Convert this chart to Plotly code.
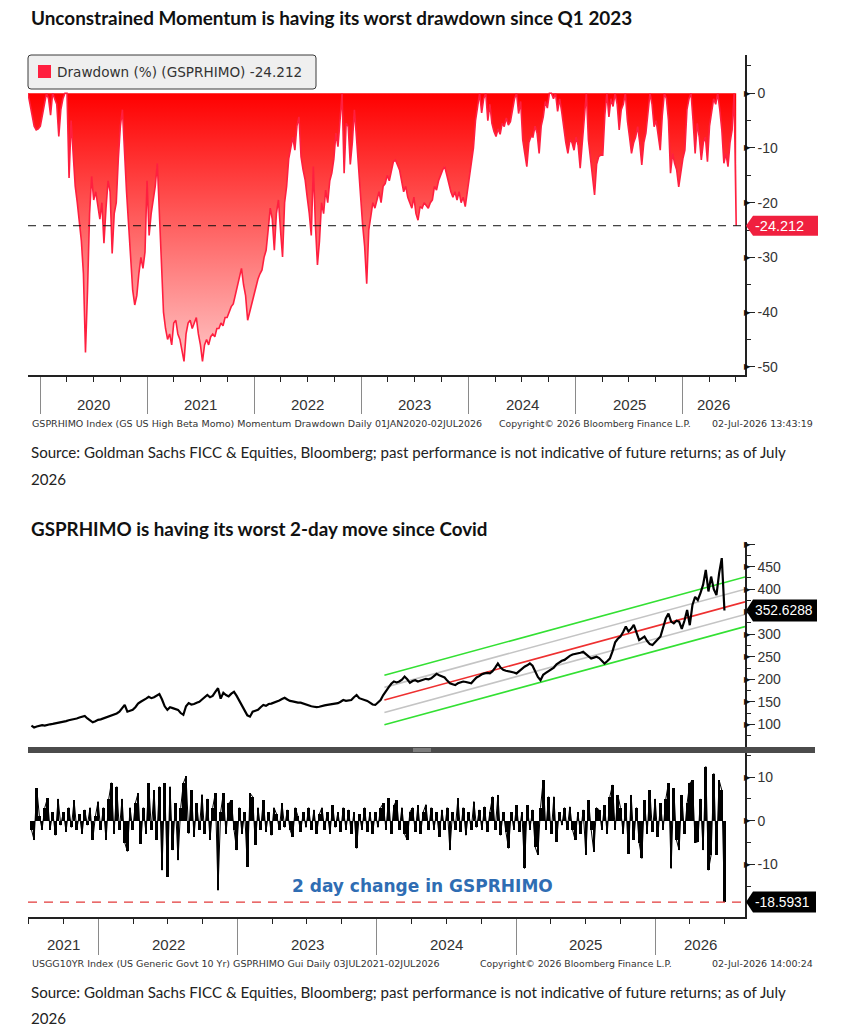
import pandas as pd
import plotly.graph_objects as go

# ---------------- data ----------------
dd_dates = pd.date_range(end="2026-07-02", periods=346, freq="7D")
drawdown = [
    0, -2, -4.5, -6, -6.7, -6.5, -6, -4, -2, 0,
    -1, -4, 0, -1, -2, -7.9, -3, -1, 0, 0,
    -15.5, -5, -11, -17, -20, -24, -27, -33, -47.4, -36,
    -22, -15.2, -19.5, -18, -21, -23, -20, -27.4, -21, -16,
    -18, -29.3, -22, -20, -12, -6, -3, -12, -18, -24,
    -31, -36, -38.7, -37, -33, -30, -32, -29, -16, -26,
    -22, -19, -17, -12.8, -22, -32, -40, -43, -45, -44,
    -46, -42, -41.5, -44, -45, -47, -49, -44, -42, -41.5,
    -43, -42, -41, -44, -46, -49, -46, -45, -46, -44.5,
    -44, -44.5, -43, -43, -42, -42.5, -41, -41, -40, -39,
    -38.5, -37, -35.4, -34, -32, -35, -37, -41.5, -40, -38.4,
    -37, -35.4, -34, -33, -32.3, -30, -28.7, -25, -21, -23,
    -28.7, -22, -19.5, -25, -29.9, -20, -17, -12, -9.75, -8,
    -10.4, -6, -4.3, -11.6, -14, -15.8, -19, -21.9, -26, -13.4,
    -24, -31.4, -27, -20, -22, -17.7, -20, -16, -14.6, -12,
    -7.3, -9.75, -5, 0, -14.6, -5.5, -6.1, -13, -9, -3,
    -8, -13.4, -20, -24, -28, -34.8, -25, -22, -20, -21,
    -19.5, -18, -20, -17, -16.5, -15, -16, -14, -12.5, -12.2,
    -13, -14, -16, -18, -17, -19, -20, -21, -19, -22,
    -23.2, -20.7, -21, -20, -20.5, -21, -20, -19.5, -17, -17.7,
    -16, -15, -14, -13.4, -15, -17, -18, -19, -18, -19.5,
    -18, -20, -19, -20.7, -18, -16, -13.4, -10, -5, -2,
    0, -3.6, -1, 0, -5, -2, -5.5, -7, -7.9, -6.5,
    -7.5, -5.5, -6.1, -4.5, -5.8, -5.2, -3, -1, 0, -3.7,
    -1.5, -8.5, -11, -13.4, -9, -7.9, -8, -6, -7.3, -11,
    -6, -4.3, -1.5, -2.7, 0, 0, -1, 0, -3.3, -1,
    -3.4, -6.7, -9, -11, -8.5, -9, -10.4, -8, -9.5, -13.7,
    -9, -4, 0, -8.5, -11.6, -15, -18.6, -13, -11.6, -11.3,
    -11.3, -4, 0, -4.3, -1, -2.4, 0, -2, -6.7, -3,
    -2, 0, -5, -7.9, -11, -9.1, -8, -6.1, -9, -13.1,
    -9, -7.3, -3, 0, -2, -6.1, -5, -8, -10.4, -4,
    0, -1, -4.9, -14.6, -11, -12.8, -14, -17.1, -14, -12,
    -10.4, -3, -1, 0, -5, -11, -5.5, -8, -12.2, -9,
    -8, -12.5, -6, -3, -1, -2, 0, -3, -6.7, -12.8,
    -11, -13.4, -9, -6.7, 0, -24.212,
]

wk_dates = pd.date_range(end="2026-07-02", periods=261, freq="7D")
price = [
    97, 93, 95, 96, 98, 97, 99, 100, 101, 102,
    103, 104, 106, 107, 109, 110, 111, 113, 115, 117,
    118.5, 113, 108, 104.4, 107, 110, 111, 113, 115, 117,
    119, 121, 124, 128, 135, 143, 128, 130, 132, 138,
    146, 150, 153, 157, 161, 158, 160, 163, 167, 155,
    140, 132, 138, 136, 134, 132, 125, 121, 140, 147,
    144, 145, 148, 150, 155, 160, 165, 160, 163, 172,
    180, 157, 170, 165, 162, 168, 172, 163, 152, 143,
    132, 120, 117, 128, 130, 132, 138, 143, 141, 145,
    146, 148, 150, 153, 156, 159, 155, 152, 151, 149,
    148, 148, 146, 143, 141, 140, 139, 138, 139, 141,
    142, 143, 144, 145, 146, 147, 150, 154, 152, 153,
    154, 160, 165, 158, 156, 154, 152, 148, 144, 143,
    148, 154, 165, 175, 182, 190, 195, 193, 195, 199,
    206, 200, 192, 196, 198, 195, 197, 199, 201, 200,
    202, 207, 212, 209, 206, 204, 197, 191, 189, 187,
    191, 193, 195, 194, 192, 191, 198, 204, 207, 211,
    213, 214, 213, 218, 226, 235, 226, 221, 219, 218,
    217, 215, 213, 218, 224, 228, 231, 235, 230, 218,
    205, 198, 210, 214, 218, 221, 226, 233, 237, 241,
    243, 248, 252, 255, 256, 258, 259, 261, 256, 250,
    246, 248, 250, 247, 240, 235, 240, 246, 262, 282,
    290, 295, 305, 317, 306, 312, 321, 305, 287, 291,
    295, 285, 278, 276, 282, 288, 295, 315, 335, 346,
    328, 324, 330, 328, 312, 330, 354, 320, 365, 383,
    376, 391, 410, 443, 395, 428, 400, 387, 435, 469,
    352.6288,
]

change_2d = [
    -2, -4.4, 7.4, 1, -2, 3, 5.1, -2, 2, -3.3,
    5, -1, 2, -2.5, 3, -1.5, 4.7, -2, 1.5, -3,
    2.5, -1, 3, -4.4, 1, 4.4, -2, 3, -4.4, 5,
    8.7, -3, 7.8, -2, 5, -5, -7, 3, -2, 4,
    6.3, -5.2, 3, -3, 8.6, -2, 7, -4.4, 7.8, -11.3,
    8.6, -12.8, 7.8, -6.7, 4, -9, 3, 8.6, 10.2, -2.9,
    7, -3.7, 4, -2, 6, -3, 5, -4.4, 3, 6.3,
    -15.9, 2, 6.3, -3, 4, 4.7, -2, -6.7, 3, -3,
    2, -10.5, 6.3, 5.5, -5.5, 3, -2, 4.7, -2.5, 2,
    -3.3, 3, 1.5, -2, 4, -1.5, 2.5, -2, -3.7, 3,
    1, -2.5, 2, -1.5, 3, -2, 2.5, -3, 1.5, 3,
    -2, 2, -3, 3.5, -1.5, 2, -2.5, 3, -2, 2.5,
    -3, 2, -6.3, 1.5, -2, 3, -2.5, 2, -3, 2,
    -1.5, 3, 4, -2, 5.1, -3, 3.5, 4.7, -2, 3,
    -3, -4.4, 2, 3, -2.5, 3.5, -3, 2, 3.7, -2,
    3, -2, 2, -3.7, 2.5, -2, 3, -6.7, 2, -2,
    5.1, -2.5, 3, -3.3, 2, -2, 4.4, -1.5, 2.5, -2,
    3.2, -2.5, 2, 5.5, -2, 5.9, -3.3, 2, -2.5, -6.3,
    2, -2, 3.6, -2.5, 2, -10.9, 3.6, -2, 2.5, -6,
    -7.8, 3, 9.3, -2, 5.5, -3, 5.5, -4.8, 2, -1,
    3, -2, 3.2, -2, -4.4, 2, -3, 2.5, -7.8, 4.7,
    -2, -7.1, 3, 2.5, -2, 3.6, -3, 5.5, 8.2, -2,
    5.9, 3, -3, 4, -7.5, 5.9, -4.4, 3, -5, -8.6,
    4.7, -3, 7, -2.5, 5, -3.7, 4, -2, 5, 8.6,
    -10.9, 7.4, -4.4, -6.7, 5.9, -3, 4, 8.6, 9.3, -5,
    -4.8, 5, -6.7, 12.4, -11.3, -7.8, 10.8, -7.8, 9.3, 7,
    -18.5931,
]

chan_dates = ["2024-01-21", "2026-08-25"]
chan_upper_outer = [209, 427]
chan_upper_inner = [182, 400]
chan_mid = [154, 372]
chan_lower_inner = [126, 344]
chan_lower_outer = [99, 317]

dd_ticks = [0, -10, -20, -30, -40, -50]
dd_minor = [5, -5, -15, -25, -35, -45]
price_ticks = [100, 150, 200, 250, 300, 350, 400, 450, 500]
price_ticktext = ["100", "150", "200", "250", "300", "", "400", "450", ""]
price_minor = [75, 125, 175, 225, 275, 325, 375, 425, 475]
chg_ticks = [10, 0, -10]
chg_minor = [15, 5, -5, -15]
years_top = [2020, 2021, 2022, 2023, 2024, 2025, 2026]
years_bot = [2021, 2022, 2023, 2024, 2025, 2026]
top_range = ["2019-11-21", "2026-08-01"]
bot_range = ["2021-06-29", "2026-08-25"]

# ---------------- layout helpers ----------------
W, H = 862, 1035
def fx(p): return p / W
def fy(p): return 1 - p / H

XL, XR = 28, 745
AXF = "Liberation Sans"
RED = "#ff1f3f"

fig = go.Figure()

fig.add_trace(go.Scatter(
    x=dd_dates, y=drawdown, mode="lines", line=dict(color=RED, width=1.6),
    fill="tozeroy",
    fillgradient=dict(type="vertical", colorscale=[[0, "#ffc8c8"], [1, "#ff0000"]], start=-50, stop=0),
    xaxis="x", yaxis="y", showlegend=False, hoverinfo="skip"))

chan_styles = [(chan_upper_outer, "#33e033"), (chan_upper_inner, "#c4c4c4"), (chan_mid, "#ee3030"),
               (chan_lower_inner, "#c4c4c4"), (chan_lower_outer, "#33e033")]
for vals, col in chan_styles:
    fig.add_trace(go.Scatter(x=chan_dates, y=vals, mode="lines", line=dict(color=col, width=1.6),
                             xaxis="x2", yaxis="y2", showlegend=False, hoverinfo="skip"))

fig.add_trace(go.Scatter(x=wk_dates, y=price, mode="lines", line=dict(color="black", width=2.2),
                         xaxis="x2", yaxis="y2", showlegend=False, hoverinfo="skip"))

fig.add_trace(go.Bar(x=wk_dates, y=change_2d, marker=dict(color="black", line=dict(width=0)),
                     xaxis="x3", yaxis="y3", showlegend=False, hoverinfo="skip"))
fig.add_trace(go.Scatter(x=wk_dates, y=change_2d, mode="lines", line=dict(color="black", width=1),
                         xaxis="x3", yaxis="y3", showlegend=False, hoverinfo="skip"))


def qticks(start, end):
    q = pd.date_range(start, end, freq="QS")
    return [d for d in q if d.month != 1]


def yticks(start, end):
    return [d for d in pd.date_range(start, end, freq="YS")]


def xaxis_style(rng, domain_anchor, longlen):
    return dict(domain=[fx(XL), fx(XR)], anchor=domain_anchor, type="date", range=rng,
                showline=True, linecolor="#222", linewidth=1.5, showgrid=False, zeroline=False,
                ticks="outside", tickmode="array", tickvals=yticks(rng[0], rng[1]),
                ticklen=longlen, tickcolor="#8a8a8a", tickwidth=1, showticklabels=False,
                minor=dict(tickmode="array", tickvals=qticks(rng[0], rng[1]), ticks="outside",
                           ticklen=5, tickcolor="#222", tickwidth=1, showgrid=False))


def yaxis_style(domain, rng, tv, tt, minor, anchor):
    return dict(domain=domain, anchor=anchor, side="right", range=rng, showline=True,
                linecolor="#222", linewidth=1.5, showgrid=False, zeroline=False,
                ticks="outside", ticklen=8, tickcolor="#222", tickwidth=1,
                tickmode="array", tickvals=tv, ticktext=tt,
                tickfont=dict(family=AXF, size=14, color="#333"),
                minor=dict(tickmode="array", tickvals=minor, ticks="outside", ticklen=4,
                           tickcolor="#222", tickwidth=1, showgrid=False))


layout = dict(
    width=W, height=H, margin=dict(l=0, r=0, t=0, b=0),
    paper_bgcolor="white", plot_bgcolor="white", bargap=0.0,
    xaxis=xaxis_style(top_range, "y", 37),
    yaxis=yaxis_style([fy(375), fy(55)], [-51.5, 7.0], dd_ticks, [str(v) for v in dd_ticks], dd_minor, "x"),
    xaxis2=dict(domain=[fx(XL), fx(XR)], anchor="y2", type="date", range=bot_range, visible=False),
    yaxis2=yaxis_style([fy(747), fy(542)], [49.6, 504.8], price_ticks, price_ticktext, price_minor, "x2"),
    xaxis3=xaxis_style(bot_range, "y3", 36),
    yaxis3=yaxis_style([fy(917), fy(753)], [-22.0, 15.5], chg_ticks, [str(v) for v in chg_ticks], chg_minor, "x3"),
)
fig.update_layout(**layout)

ann = []
shapes = []


def text_ann(text, x, y, size, family=AXF, color="#222", bold=False, xanchor="left"):
    ann.append(dict(text=text, x=fx(x), y=fy(y), xref="paper", yref="paper", xanchor=xanchor,
                    yanchor="middle", showarrow=False,
                    font=dict(size=size, family=family, color=color, weight="bold" if bold else "normal")))


# titles and sources
text_ann("Unconstrained Momentum is having its worst drawdown since Q1 2023", 29, 17, 18.9, "Lato", "#111", True)
text_ann("GSPRHIMO is having its worst 2-day move since Covid", 29, 528, 18.8, "Lato", "#111", True)
src = "Source: Goldman Sachs FICC &amp; Equities, Bloomberg; past performance is not indicative of future returns; as of July"
text_ann(src, 29, 452, 15.1, "Lato", "#222")
text_ann("2026", 29, 479, 15.1, "Lato", "#222")
text_ann(src, 29, 992, 15.1, "Lato", "#222")
text_ann("2026", 29, 1018, 15.1, "Lato", "#222")

# bloomberg footers
FF = "DejaVu Sans"
text_ann("GSPRHIMO Index (GS US High Beta Momo) Momentum Drawdown Daily 01JAN2020-02JUL2026", 30, 423, 9.5, FF, "#333")
text_ann("Copyright\u00a9 2026 Bloomberg Finance L.P.", 497, 423, 9.3, FF, "#333")
text_ann("02-Jul-2026 13:43:19", 815, 423, 9.5, FF, "#333", xanchor="right")
text_ann("USGG10YR Index (US Generic Govt 10 Yr) GSPRHIMO Gui Daily 03JUL2021-02JUL2026", 30, 963, 9.5, FF, "#333")
text_ann("Copyright\u00a9 2026 Bloomberg Finance L.P.", 478, 963, 9.3, FF, "#333")
text_ann("02-Jul-2026 14:00:24", 815, 963, 9.5, FF, "#333", xanchor="right")


# year labels (centred in visible part of each year)
def year_labels(years, rng, xref, ypix):
    lo, hi = pd.Timestamp(rng[0]), pd.Timestamp(rng[1])
    for yr in years:
        a = max(pd.Timestamp(f"{yr}-01-01"), lo)
        b = min(pd.Timestamp(f"{yr + 1}-01-01"), hi)
        mid = a + (b - a) / 2
        ann.append(dict(text=str(yr), x=mid, y=fy(ypix), xref=xref, yref="paper", showarrow=False,
                        xanchor="center", yanchor="middle", font=dict(family=AXF, size=15, color="#333")))


year_labels(years_top, top_range, "x", 404)
year_labels(years_bot, bot_range, "x3", 944)

# tick arrowheads
for yref, tv in (("y", dd_ticks), ("y2", price_ticks), ("y3", chg_ticks)):
    for v in tv:
        ann.append(dict(text="\u25b6", x=fx(XR), y=v, xref="paper", yref=yref, xanchor="left",
                        yanchor="middle", xshift=-3, showarrow=False,
                        font=dict(family="DejaVu Sans", size=8, color="#111")))

# legend box
r = 3
lx0, lx1, ly0, ly1 = fx(28), fx(316), fy(89), fy(55)
rx, ry = r / W, r / H
path = (f"M {lx0 + rx},{ly0} L {lx1 - rx},{ly0} Q {lx1},{ly0} {lx1},{ly0 + ry} "
        f"L {lx1},{ly1 - ry} Q {lx1},{ly1} {lx1 - rx},{ly1} L {lx0 + rx},{ly1} "
        f"Q {lx0},{ly1} {lx0},{ly1 - ry} L {lx0},{ly0 + ry} Q {lx0},{ly0} {lx0 + rx},{ly0} Z")
shapes.append(dict(type="path", xref="paper", yref="paper", path=path, fillcolor="#efefef",
                   line=dict(color="#3a3a3a", width=1), layer="above"))
shapes.append(dict(type="rect", xref="paper", yref="paper", x0=fx(38), x1=fx(51), y0=fy(78), y1=fy(65),
                   fillcolor=RED, line=dict(width=0), layer="above"))
text_ann(f"Drawdown (%) (GSPRHIMO) {drawdown[-1]:.3f}", 55, 72, 13.6, "DejaVu Sans", "#333")

# reference lines
shapes.append(dict(type="line", xref="x domain", yref="y", x0=0, x1=1, y0=drawdown[-1], y1=drawdown[-1],
                   line=dict(color="#111", width=1, dash="8px,7px"), layer="above"))
shapes.append(dict(type="line", xref="x3 domain", yref="y3", x0=0, x1=1, y0=change_2d[-1], y1=change_2d[-1],
                   line=dict(color="#e23a3a", width=1.3, dash="9px,7px"), layer="above"))

# separator between panels
shapes.append(dict(type="rect", xref="paper", yref="paper", x0=fx(28), x1=fx(815), y0=fy(753), y1=fy(747),
                   fillcolor="#4b4b4b", line=dict(width=0), layer="above"))
for yy in (749, 751):
    shapes.append(dict(type="line", xref="paper", yref="paper", x0=fx(413), x1=fx(431), y0=fy(yy), y1=fy(yy),
                       line=dict(color="#b0b0b0", width=1), layer="above"))


# value tags on right axis
def tag(yref, val, color, width, h, text, size):
    p = f"M 0,0 L 7,{-h} L {width},{-h} L {width},{h} L 7,{h} Z"
    shapes.append(dict(type="path", xref="paper", yref=yref, xsizemode="pixel", ysizemode="pixel",
                       xanchor=fx(XR + 1), yanchor=val, path=p, fillcolor=color, line=dict(width=0),
                       layer="above"))
    ann.append(dict(text=text, x=fx(XR + 8), y=val, xref="paper", yref=yref, xanchor="left",
                    yanchor="middle", showarrow=False, font=dict(family=AXF, size=size, color="white")))


tag("y", drawdown[-1], "#f0203f", 72, 10, f"{drawdown[-1]:.3f}", 14.5)
tag("y2", price[-1], "#000000", 71, 11, f"{price[-1]:.4f}", 13.8)
tag("y3", change_2d[-1], "#000000", 70, 10.5, f"{change_2d[-1]:.4f}", 13.8)

# panel caption
ann.append(dict(text="2 day change in GSPRHIMO", x=fx(422), y=fy(886), xref="paper", yref="paper",
                showarrow=False, xanchor="center", yanchor="middle",
                font=dict(family="DejaVu Sans", size=17, color="#2f6db3", weight="bold")))

fig.update_layout(annotations=ann, shapes=shapes)
fig.write_html("out.html")
